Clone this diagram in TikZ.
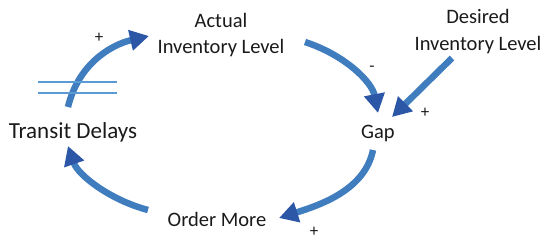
\documentclass[tikz,border=0pt]{standalone}
\usepackage{fontspec}
\setmainfont{Carlito}
\usetikzlibrary{arrows.meta}
\definecolor{shaft}{HTML}{3F7DBF}
\definecolor{headc}{HTML}{2C56A6}
\definecolor{delay}{HTML}{5B9BD5}
\definecolor{txt}{HTML}{1A1A1A}
\begin{document}
\begin{tikzpicture}[x=1pt,y=-1pt,
  lbl/.style={font=\fontsize{20.5}{26.5}\selectfont, text=txt, align=center, anchor=base, inner sep=0pt},
  sgn/.style={font=\fontsize{17}{18}\selectfont, text=txt, inner sep=0pt},
  link/.style={line width=6.5pt, draw=shaft, -{Triangle[length=19pt,width=20pt,color=headc]}}]
\useasboundingbox (0,0) rectangle (550,247);
\node[lbl] (actual) at (221,53.5) {Actual\\Inventory Level};
\node[lbl] (desired) at (478,50) {Desired\\Inventory Level};
\node[lbl] (gap) at (378,138) {Gap};
\node[lbl, font=\fontsize{23}{28}\selectfont] (transit) at (73,138) {Transit Delays};
\node[lbl] (order) at (217,226) {Order More};
\node[sgn] (p1) at (99,38) {+};
\node[sgn] (m1) at (372,69) {-};
\node[sgn] (p2) at (425,113) {+};
\node[sgn] (p3) at (314,232) {+};
\coordinate (t1) at (68,107);
\coordinate (h1) at (149,36);
\coordinate (t2) at (305,42);
\coordinate (h2) at (378,113);
\coordinate (t3) at (452,58);
\coordinate (h3) at (392,117);
\coordinate (t4) at (373,150);
\coordinate (h4) at (279,218);
\coordinate (t5) at (148,210);
\coordinate (h5) at (68,146);
\draw[link] (t1) .. controls (78,65) and (110,45) .. (h1);
\draw[link] (t2) .. controls (345,55) and (372,82) .. (h2);
\draw[link] (t3) -- (h3);
\draw[link] (t4) .. controls (365,190) and (320,205) .. (h4);
\draw[link] (t5) .. controls (110,200) and (78,175) .. (h5);
\coordinate (d1a) at (38,82);
\coordinate (d1b) at (117,82);
\coordinate (d2a) at (38,93);
\coordinate (d2b) at (117,93);
\draw[delay, line width=2pt] (d1a) -- (d1b);
\draw[delay, line width=2pt] (d2a) -- (d2b);
\end{tikzpicture}
\end{document}
